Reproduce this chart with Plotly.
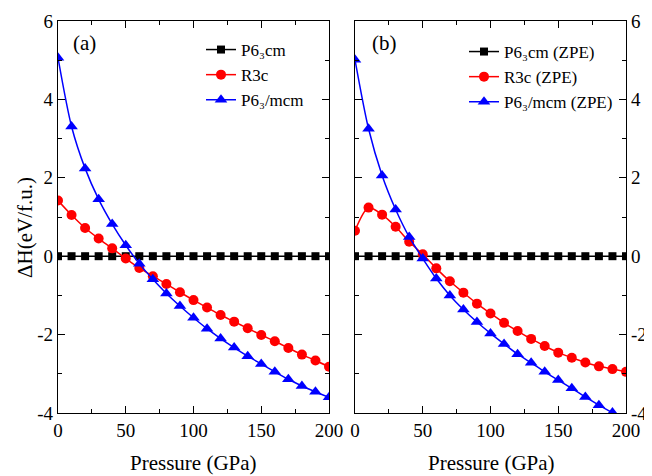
import plotly.graph_objects as go

W, H = 652, 476
OFF = 8  # page body margin offset
FW, FH = W - OFF, H - OFF

pressure = [0, 10, 20, 30, 40, 50, 60, 70, 80, 90, 100, 110, 120, 130, 140, 150, 160, 170, 180, 190, 200]

p63cm_a = [0.0] * 21
r3c_a = [1.42, 1.05, 0.72, 0.45, 0.20, -0.06, -0.30, -0.51, -0.71, -0.92, -1.12, -1.31, -1.50,
         -1.67, -1.84, -2.01, -2.17, -2.34, -2.51, -2.66, -2.82]
p63mcm_a = [5.06, 3.31, 2.24, 1.45, 0.82, 0.28, -0.19, -0.59, -0.95, -1.27, -1.57, -1.85, -2.10,
            -2.33, -2.55, -2.75, -2.95, -3.14, -3.31, -3.46, -3.60]

p63cm_b = [0.0] * 21
r3c_b = [0.65, 1.24, 1.06, 0.75, 0.37, 0.05, -0.31, -0.64, -0.93, -1.21, -1.46, -1.70, -1.91,
         -2.11, -2.29, -2.46, -2.59, -2.71, -2.81, -2.88, -2.95]
p63mcm_b = [5.01, 3.25, 2.06, 1.19, 0.49, -0.06, -0.57, -1.00, -1.36, -1.68, -1.97, -2.24, -2.50,
            -2.72, -2.95, -3.16, -3.37, -3.59, -3.80, -3.99, -4.18]

names_a = ["P6₃cm", "R3c", "P6₃/mcm"]
names_b = ["P6₃cm (ZPE)", "R3c (ZPE)", "P6₃/mcm (ZPE)"]
x_ticks = [0, 50, 100, 150, 200]
x_ticktext = ["0", "50", "100", "150", "200"]
y_ticks = [-4, -2, 0, 2, 4, 6]
y_ticktext = ["-4", "-2", "0", "2", "4", "6"]

FONT = "Liberation Serif"
colors = ["#000000", "#FF0000", "#0000FF"]
symbols = ["square", "circle", "triangle-up"]
msizes = [8, 10, 11]

fig = go.Figure()
for panel, (series, names, xa, ya, leg) in enumerate([
        ([p63cm_a, r3c_a, p63mcm_a], names_a, "x", "y", "legend"),
        ([p63cm_b, r3c_b, p63mcm_b], names_b, "x2", "y2", "legend2")]):
    for i, (vals, nm) in enumerate(zip(series, names)):
        fig.add_trace(go.Scatter(
            x=pressure, y=vals, name=nm, xaxis=xa, yaxis=ya, legend=leg,
            mode="lines+markers",
            line=dict(color=colors[i], width=1.5, shape="spline", smoothing=0.8),
            marker=dict(color=colors[i], symbol=symbols[i], size=msizes[i]),
        ))

def px_x(p):
    return (p - OFF) / FW

def px_y(p):
    return 1 - (p - OFF) / FH

ax_common = dict(
    showline=True, linecolor="black", linewidth=1.3, mirror="allticks",
    ticks="inside", ticklen=7, tickwidth=1.3, tickcolor="black",
    showgrid=False, zeroline=False, automargin=False,
    tickfont=dict(family=FONT, size=19, color="black"),
    minor=dict(ticks="inside", ticklen=4, tickwidth=1.3, tickcolor="black", showgrid=False),
)

xdomA = [px_x(58), px_x(329)]
xdomB = [px_x(355), px_x(626)]
ydom = [px_y(413), px_y(21)]

def ann(text, x, y, size, angle=0):
    return dict(text=text, x=px_x(x), y=px_y(y), xref="paper", yref="paper",
                xanchor="center", yanchor="middle", showarrow=False, textangle=angle,
                font=dict(family=FONT, size=size, color="black"))

fig.update_layout(
    template="none",
    width=FW, height=FH,
    margin=dict(l=0, r=0, t=0, b=0),
    paper_bgcolor="white", plot_bgcolor="white",
    font=dict(family=FONT, size=17, color="black"),
    xaxis=dict(domain=xdomA, range=[0, 200], tickvals=x_ticks, ticktext=x_ticktext, anchor="y",
               minor_dtick=25, **ax_common),
    yaxis=dict(domain=ydom, range=[-4, 6], tickvals=y_ticks, ticktext=y_ticktext, anchor="x",
               side="left", minor_dtick=1, **ax_common),
    xaxis2=dict(domain=xdomB, range=[0, 200], tickvals=x_ticks, ticktext=x_ticktext, anchor="y2",
                minor_dtick=25, **ax_common),
    yaxis2=dict(domain=ydom, range=[-4, 6], tickvals=y_ticks, ticktext=y_ticktext, anchor="x2",
                side="right", minor_dtick=1, **ax_common),
    legend=dict(x=px_x(201), y=px_y(32), xanchor="left", yanchor="top",
                bgcolor="rgba(0,0,0,0)", font=dict(family=FONT, size=17),
                tracegroupgap=0, itemwidth=30),
    legend2=dict(x=px_x(464), y=px_y(34), xanchor="left", yanchor="top",
                 bgcolor="rgba(0,0,0,0)", font=dict(family=FONT, size=17),
                 tracegroupgap=0, itemwidth=30),
    showlegend=True,
    annotations=[
        ann("(a)", 84, 43, 21),
        ann("(b)", 384, 43, 21),
        ann("Pressure (GPa)", 193, 463, 21),
        ann("Pressure (GPa)", 491, 463, 21),
        ann("ΔH(eV/f.u.)", 25, 228, 21, -90),
    ],
)

fig.write_html("out.html")
